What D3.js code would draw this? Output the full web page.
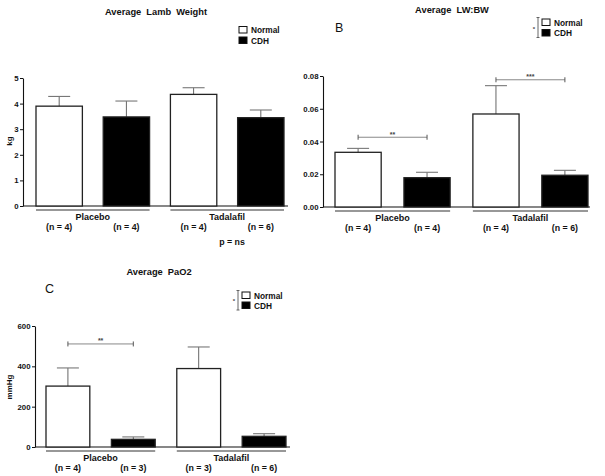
<!DOCTYPE html>
<html>
<head>
<meta charset="utf-8">
<script src="https://cdn.jsdelivr.net/npm/d3@7"></script>
<style>
  body { margin: 0; background: #fff; }
  svg { display: block; }
  text { font-family: "Liberation Sans", Arial, sans-serif; }
</style>
</head>
<body>
<svg id="chart" width="605" height="476"></svg>
<script>
// ---- data ----
const groups = ["Placebo", "Tadalafil"];
const conditions = ["Normal", "CDH"];
const barKeys = ["Placebo-Normal", "Placebo-CDH", "Tadalafil-Normal", "Tadalafil-CDH"];

const lambWeightMean = [3.90, 3.48, 4.36, 3.45];
const lambWeightErr  = [4.28, 4.10, 4.62, 3.75];
const lambWeightN    = [4, 4, 4, 6];

const lwbwMean = [0.0334, 0.0179, 0.0568, 0.0194];
const lwbwErr  = [0.0358, 0.0212, 0.0741, 0.0224];
const lwbwN    = [4, 4, 4, 6];

const pao2Mean = [302, 38, 389, 53];
const pao2Err  = [392, 50, 496, 66];
const pao2N    = [4, 3, 3, 6];

const ticksA = [0, 1, 2, 3, 4, 5];
const ticksB = [0, 0.02, 0.04, 0.06, 0.08];
const ticksC = [0, 200, 400, 600];

const sigB = [{from: 0, to: 1, y: 0.0426, label: "**"}, {from: 2, to: 3, y: 0.0777, label: "***"}];
const sigC = [{from: 0, to: 1, y: 511, label: "**"}];

// ---- drawing ----
const svg = d3.select("#chart");
svg.append("rect").attr("width", 605).attr("height", 476).attr("fill", "#fff");

function panel(cfg) {
  const g = svg.append("g");
  const x = d3.scaleBand().domain(barKeys).range([cfg.barStart, cfg.barEnd]).paddingInner(cfg.padIn).paddingOuter(0);
  const y = d3.scaleLinear().domain(cfg.domain).range([cfg.y0, cfg.yTop]);
  const bw = x.bandwidth();

  // y axis
  const ax = g.append("g").attr("transform", `translate(${cfg.axisX},0)`)
    .call(d3.axisLeft(y).tickValues(cfg.ticks).tickFormat(cfg.fmt).tickSize(3).tickSizeOuter(0).tickPadding(1.5));
  ax.select(".domain").attr("stroke", "#111").attr("stroke-width", 1.1);
  ax.selectAll(".tick line").attr("stroke", "#111").attr("stroke-width", 1);
  ax.selectAll(".tick text").attr("font-size", 7.8).attr("font-weight", "bold").attr("fill", "#111")
    .attr("font-family", "Liberation Sans, Arial, sans-serif");

  // x axis baseline
  g.append("line").attr("x1", cfg.axisX).attr("x2", cfg.axisEnd)
    .attr("y1", y(0)).attr("y2", y(0)).attr("stroke", "#111").attr("stroke-width", 1.1);

  // error bars (upper only)
  cfg.mean.forEach((m, i) => {
    const cx = x(barKeys[i]) + bw / 2;
    g.append("line").attr("x1", cx).attr("x2", cx).attr("y1", y(m)).attr("y2", y(cfg.err[i]))
      .attr("stroke", "#666").attr("stroke-width", 1);
    g.append("line").attr("x1", cx - 11).attr("x2", cx + 11).attr("y1", y(cfg.err[i])).attr("y2", y(cfg.err[i]))
      .attr("stroke", "#777").attr("stroke-width", 1.1);
  });

  // bars
  g.selectAll("rect.bar").data(cfg.mean).enter().append("rect")
    .attr("class", "bar")
    .attr("x", (d, i) => x(barKeys[i]))
    .attr("width", bw)
    .attr("y", d => y(d))
    .attr("height", d => y(0) - y(d))
    .attr("fill", (d, i) => i % 2 === 0 ? "#fff" : "#000")
    .attr("stroke", "#222").attr("stroke-width", 1.3);

  // group lines and labels
  groups.forEach((grp, gi) => {
    const a = x(barKeys[gi * 2]), b = x(barKeys[gi * 2 + 1]) + bw;
    g.append("line").attr("x1", a).attr("x2", b).attr("y1", y(0) + 4).attr("y2", y(0) + 4)
      .attr("stroke", "#333").attr("stroke-width", 1.2);
    g.append("text").attr("x", (a + b) / 2).attr("y", y(0) + 14).attr("text-anchor", "middle")
      .attr("font-size", 9).attr("font-weight", "bold").attr("fill", "#111").text(grp);
  });
  cfg.n.forEach((n, i) => {
    const cx = x(barKeys[i]) + bw / 2;
    g.append("text").attr("x", cx).attr("y", y(0) + 23.5).attr("text-anchor", "middle")
      .attr("font-size", 8.8).attr("font-weight", "bold").attr("fill", "#111").text(`(n = ${n})`);
  });

  // significance bars
  (cfg.sig || []).forEach(s => {
    const x1 = x(barKeys[s.from]) + bw / 2, x2 = x(barKeys[s.to]) + bw / 2, yy = y(s.y);
    g.append("line").attr("x1", x1).attr("x2", x2).attr("y1", yy).attr("y2", yy).attr("stroke", "#888").attr("stroke-width", 1);
    [x1, x2].forEach(xx => g.append("line").attr("x1", xx).attr("x2", xx).attr("y1", yy - 2.5).attr("y2", yy + 2.5)
      .attr("stroke", "#555").attr("stroke-width", 1));
    g.append("text").attr("x", (x1 + x2) / 2).attr("y", yy - 0.5).attr("text-anchor", "middle")
      .attr("font-size", 7).attr("font-weight", "bold").attr("fill", "#444").text(s.label);
  });

  // title
  g.append("text").attr("x", cfg.titleX).attr("y", cfg.titleY).attr("text-anchor", "middle")
    .attr("font-size", 9.3).attr("font-weight", "bold").attr("fill", "#111")
    .attr("word-spacing", 2.5).text(cfg.title);

  // y label
  if (cfg.ylabel) {
    g.append("text").attr("transform", `translate(${cfg.ylabelX},${cfg.ylabelY}) rotate(-90)`)
      .attr("text-anchor", "middle").attr("font-size", 8).attr("font-weight", "bold").attr("fill", "#111").text(cfg.ylabel);
  }

  // panel letter
  if (cfg.letter) {
    g.append("text").attr("x", cfg.letterX).attr("y", cfg.letterY).attr("font-size", 12.5)
      .attr("font-family", "Carlito, 'Open Sans', sans-serif").attr("fill", "#111").text(cfg.letter);
  }

  // legend
  const L = cfg.legend;
  conditions.forEach((c, i) => {
    const yy = L.y + i * L.dy;
    g.append("rect").attr("x", L.x).attr("y", yy).attr("width", 8).attr("height", 6.5)
      .attr("fill", i === 0 ? "#fff" : "#000").attr("stroke", "#111").attr("stroke-width", 1);
    g.append("text").attr("x", L.x + 12).attr("y", yy + 6.8).attr("font-size", 8.3).attr("font-weight", "bold")
      .attr("fill", "#111").text(c);
  });
  if (L.bracket) {
    const bx = L.x - 4, y1 = L.y - 1.5, y2 = L.y + L.dy + 8;
    g.append("line").attr("x1", bx).attr("x2", bx).attr("y1", y1).attr("y2", y2).attr("stroke", "#555").attr("stroke-width", 0.9);
    [y1, y2].forEach(v => g.append("line").attr("x1", bx - 1.5).attr("x2", bx + 1.5).attr("y1", v).attr("y2", v)
      .attr("stroke", "#555").attr("stroke-width", 0.9));
    g.append("text").attr("x", bx - 3).attr("y", (y1 + y2) / 2 + 3).attr("text-anchor", "end")
      .attr("font-size", 6).attr("font-weight", "bold").attr("fill", "#444").text("*");
  }
  return {x, y};
}

panel({
  mean: lambWeightMean, err: lambWeightErr, n: lambWeightN, ticks: ticksA, fmt: d3.format("d"),
  domain: [0, 5], y0: 206, yTop: 78, axisX: 23, axisEnd: 288,
  barStart: 36, barEnd: 284, padIn: 0.31,
  title: "Average Lamb Weight", titleX: 156, titleY: 15,
  ylabel: "kg", ylabelX: 12, ylabelY: 141,
  legend: {x: 239, y: 26.5, dy: 10.5, bracket: false}
});
svg.append("text").attr("x", 232).attr("y", 245).attr("text-anchor", "middle").attr("font-size", 8.8)
  .attr("font-weight", "bold").attr("fill", "#111").text("p = ns");

panel({
  mean: lwbwMean, err: lwbwErr, n: lwbwN, ticks: ticksB, fmt: d3.format(".2f"),
  domain: [0, 0.08], y0: 207, yTop: 76, axisX: 323, axisEnd: 590,
  barStart: 335, barEnd: 588, padIn: 0.33, sig: sigB,
  title: "Average LW:BW", titleX: 452, titleY: 13,
  letter: "B", letterX: 335, letterY: 32,
  legend: {x: 542, y: 19, dy: 10.5, bracket: true}
});

panel({
  mean: pao2Mean, err: pao2Err, n: pao2N, ticks: ticksC, fmt: d3.format("d"),
  domain: [0, 600], y0: 447, yTop: 326, axisX: 35, axisEnd: 290,
  barStart: 46, barEnd: 286, padIn: 0.33, sig: sigC,
  title: "Average PaO2", titleX: 159, titleY: 275,
  ylabel: "mmHg", ylabelX: 12, ylabelY: 387,
  letter: "C", letterX: 45, letterY: 293,
  legend: {x: 242, y: 292, dy: 10, bracket: true}
});
</script>
</body>
</html>
